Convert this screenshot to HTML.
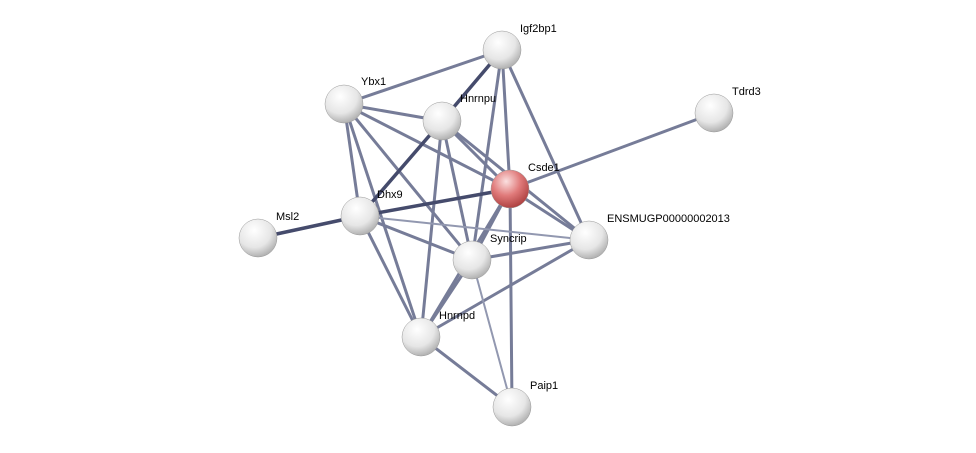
<!DOCTYPE html>
<html><head><meta charset="utf-8"><style>
html,body{margin:0;padding:0;background:#fff;}
svg{display:block;}
text{font-family:"Liberation Sans",sans-serif;font-size:11px;fill:#000;}
</style></head><body>
<svg width="976" height="453" viewBox="0 0 976 453" xmlns="http://www.w3.org/2000/svg">
<defs>
<radialGradient id="g" cx="0.4" cy="0.3" r="0.75">
<stop offset="0" stop-color="#ffffff"/><stop offset="0.6" stop-color="#e6e6e6"/><stop offset="1" stop-color="#a8a8a8"/>
</radialGradient>
<radialGradient id="r" cx="0.4" cy="0.3" r="0.75">
<stop offset="0" stop-color="#fbe0e0"/><stop offset="0.5" stop-color="#e07a7a"/><stop offset="1" stop-color="#a83a3a"/>
</radialGradient>
</defs>
<g stroke-linecap="round">
<g stroke="#767c98" stroke-width="3">
<line x1="502" y1="50" x2="344" y2="104"/>
<line x1="502" y1="50" x2="510" y2="189"/>
<line x1="502" y1="50" x2="472" y2="260"/>
<line x1="502" y1="50" x2="589" y2="240"/>
<line x1="344" y1="104" x2="442" y2="121"/>
<line x1="344" y1="104" x2="510" y2="189"/>
<line x1="344" y1="104" x2="360" y2="216"/>
<line x1="344" y1="104" x2="472" y2="260"/>
<line x1="344" y1="104" x2="421" y2="337"/>
<line x1="442" y1="121" x2="510" y2="189"/>
<line x1="442" y1="121" x2="472" y2="260"/>
<line x1="442" y1="121" x2="421" y2="337"/>
<line x1="442" y1="121" x2="589" y2="240"/>
<line x1="510" y1="189" x2="714" y2="113"/>
<line x1="510" y1="189" x2="472" y2="260"/>
<line x1="510" y1="189" x2="589" y2="240"/>
<line x1="510" y1="189" x2="421" y2="337"/>
<line x1="360" y1="216" x2="472" y2="260"/>
<line x1="360" y1="216" x2="421" y2="337"/>
<line x1="472" y1="260" x2="421" y2="337"/>
<line x1="472" y1="260" x2="589" y2="240"/>
<line x1="421" y1="337" x2="512" y2="407"/>
<line x1="421" y1="337" x2="589" y2="240"/>
<line x1="510" y1="189" x2="512" y2="407"/>
</g>
<g stroke="#9298b0" stroke-width="2">
<line x1="360" y1="216" x2="589" y2="240"/>
<line x1="472" y1="260" x2="512" y2="407"/>
</g>
<g stroke="#454b6c" stroke-width="3.5">
<line x1="502" y1="50" x2="442" y2="121"/>
<line x1="442" y1="121" x2="360" y2="216"/>
<line x1="510" y1="189" x2="360" y2="216"/>
<line x1="360" y1="216" x2="258" y2="238"/>
</g>
</g>
<g stroke="#999" stroke-width="0.5">
<circle cx="502" cy="50" r="19" fill="url(#g)"/>
<circle cx="344" cy="104" r="19" fill="url(#g)"/>
<circle cx="442" cy="121" r="19" fill="url(#g)"/>
<circle cx="714" cy="113" r="19" fill="url(#g)"/>
<circle cx="510" cy="189" r="19" fill="url(#r)"/>
<circle cx="360" cy="216" r="19" fill="url(#g)"/>
<circle cx="258" cy="238" r="19" fill="url(#g)"/>
<circle cx="589" cy="240" r="19" fill="url(#g)"/>
<circle cx="472" cy="260" r="19" fill="url(#g)"/>
<circle cx="421" cy="337" r="19" fill="url(#g)"/>
<circle cx="512" cy="407" r="19" fill="url(#g)"/>
</g>
<text x="520" y="32">Igf2bp1</text>
<text x="361" y="85">Ybx1</text>
<text x="460" y="102">Hnrnpu</text>
<text x="732" y="95">Tdrd3</text>
<text x="528" y="171">Csde1</text>
<text x="377" y="198">Dhx9</text>
<text x="276" y="220">Msl2</text>
<text x="607" y="222">ENSMUGP00000002013</text>
<text x="490" y="242">Syncrip</text>
<text x="439" y="319">Hnrnpd</text>
<text x="530" y="389">Paip1</text>
</svg>
</body></html>
